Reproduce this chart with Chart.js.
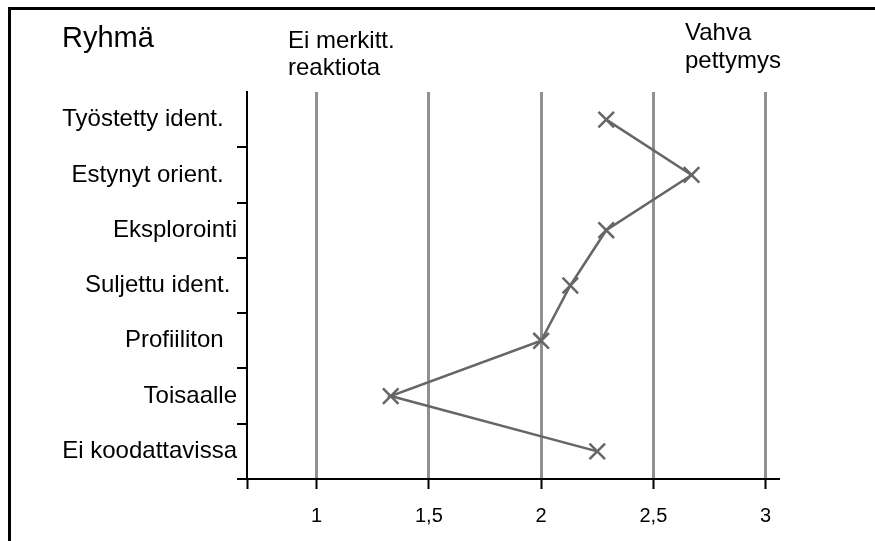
<!DOCTYPE html>
<html><head><meta charset="utf-8">
<script src="https://cdn.jsdelivr.net/npm/chart.js@4.4.0/dist/chart.umd.min.js"></script>
<style>html,body{margin:0;padding:0;background:#fff;overflow:hidden;}#wrap{position:relative;width:875px;height:541px;}</style>
</head><body><div id="wrap"><canvas id="c" width="875" height="541"></canvas></div>
<script>
const categories = ['Työstetty ident.  ', 'Estynyt orient.  ', 'Eksplorointi', 'Suljettu ident. ', 'Profiiliton  ', 'Toisaalle', 'Ei koodattavissa'];
const values = [2.29, 2.67, 2.29, 2.13, 2.00, 1.33, 2.25];
const xTickValues = [1, 1.5, 2, 2.5, 3];
const xTickLabels = ['1', '1,5', '2', '2,5', '3'];
const axisTitle = 'Ryhmä';
const leftHeader = ['Ei merkitt.', 'reaktiota'];
const rightHeader = ['Vahva', 'pettymys'];
const xMin = 0.69, xMax = 3.055;

const FONT = '"Liberation Sans", Arial, sans-serif';
Chart.defaults.font.family = FONT;

const decor = {
  id: 'decor',
  afterDraw(chart) {
    const ctx = chart.ctx;
    ctx.save();
    ctx.strokeStyle = '#000';
    ctx.lineWidth = 3;
    ctx.beginPath();
    ctx.moveTo(9.5, 541);
    ctx.lineTo(9.5, 8.5);
    ctx.lineTo(875, 8.5);
    ctx.stroke();
    ctx.fillStyle = '#000';
    ctx.textBaseline = 'middle';
    ctx.textAlign = 'left';
    ctx.font = '29px ' + FONT;
    ctx.fillText(axisTitle, 62, 39);
    ctx.font = '24px ' + FONT;
    ctx.fillText(leftHeader[0], 288, 41);
    ctx.fillText(leftHeader[1], 288, 68);
    ctx.fillText(rightHeader[0], 685, 33);
    ctx.fillText(rightHeader[1], 685, 61);
    ctx.restore();
  }
};

new Chart(document.getElementById('c'), {
  type: 'line',
  data: {
    labels: categories,
    datasets: [{
      data: values,
      borderColor: '#666666',
      borderWidth: 2.5,
      pointStyle: 'crossRot',
      pointRadius: 11,
      pointBorderWidth: 2.5,
      pointBorderColor: '#666666',
      pointBackgroundColor: '#666666',
      tension: 0,
      clip: false
    }]
  },
  options: {
    responsive: false,
    animation: false,
    devicePixelRatio: 1,
    indexAxis: 'y',
    layout: { padding: { top: 92, right: 97, left: 0, bottom: 0 } },
    plugins: { legend: { display: false }, tooltip: { enabled: false } },
    scales: {
      x: {
        type: 'linear', position: 'bottom', min: xMin, max: xMax,
        afterBuildTicks: s => { s.ticks = [xMin].concat(xTickValues).map(v => ({ value: v })); },
        afterFit: s => { s.height = 62; },
        ticks: {
          autoSkip: false, maxRotation: 0, color: '#000', padding: 15,
          font: { size: 20, family: FONT },
          callback: (v) => { const i = xTickValues.indexOf(v); return i < 0 ? '' : xTickLabels[i]; }
        },
        grid: {
          color: c => c.index === 0 ? 'rgba(0,0,0,0)' : '#919191',
          lineWidth: 3, drawTicks: true, tickLength: 10, tickColor: '#000', tickWidth: 2
        },
        border: { display: true, color: '#000', width: 2 }
      },
      y: {
        type: 'category', position: 'left', offset: true,
        afterFit: s => { s.width = 247; },
        ticks: { color: '#000', padding: 0, autoSkip: false, font: { size: 24, family: FONT } },
        grid: {
          offset: true, drawOnChartArea: false, drawTicks: true, tickLength: 10,
          color: c => c.index === 0 ? 'rgba(0,0,0,0)' : '#000', lineWidth: 2
        },
        border: { display: true, color: '#000', width: 2 }
      }
    }
  },
  plugins: [decor]
});
</script>
</body></html>
